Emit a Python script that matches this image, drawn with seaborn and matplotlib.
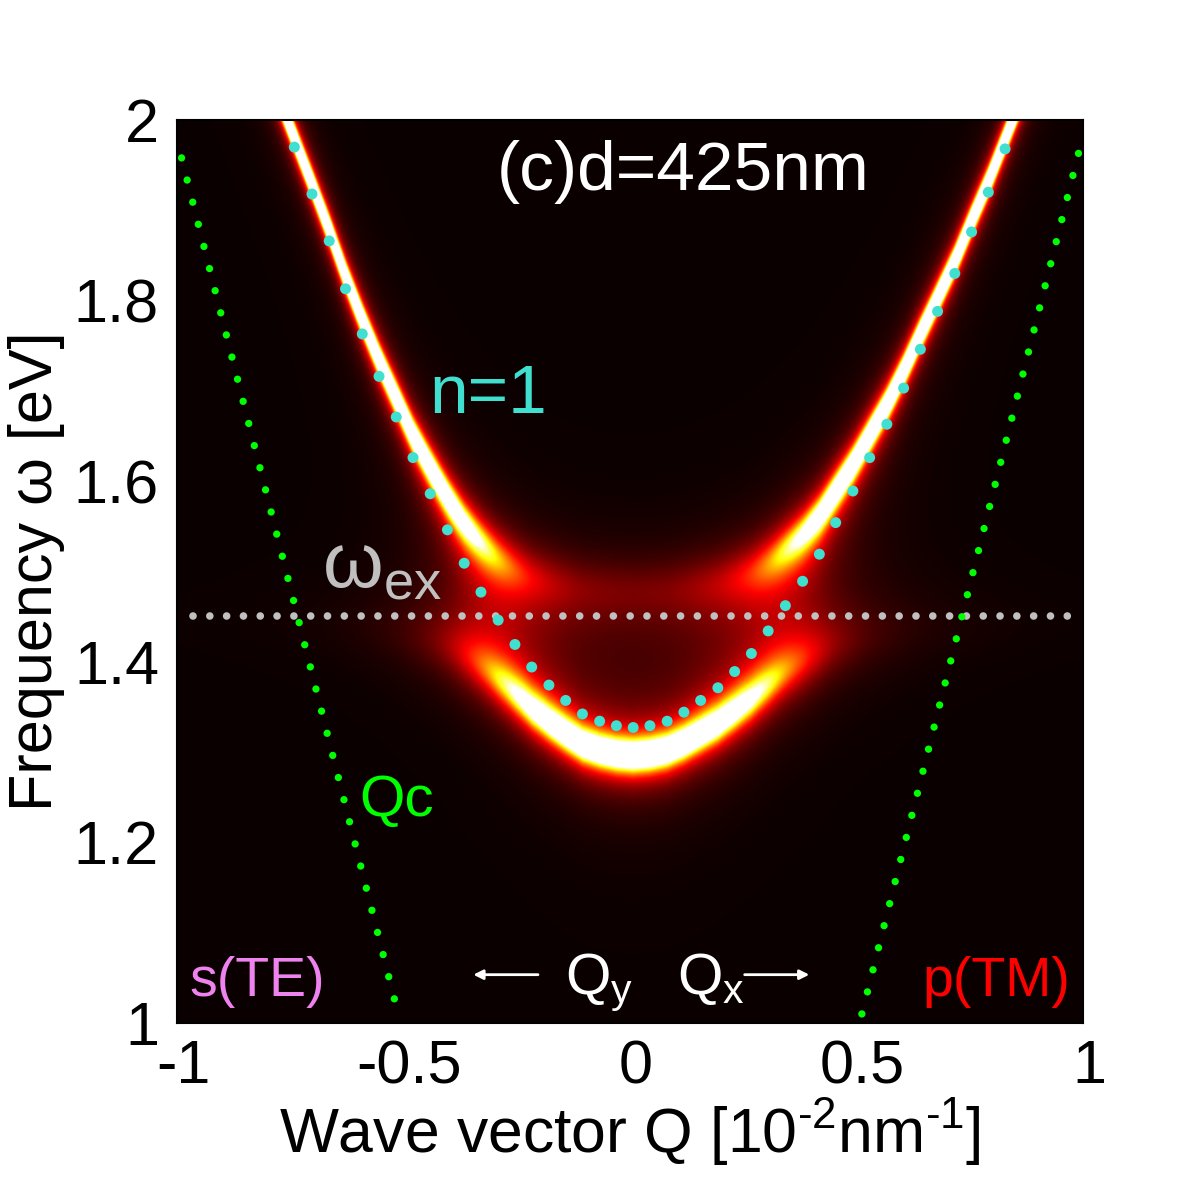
import numpy as np
import pandas as pd
import seaborn as sns
import matplotlib
matplotlib.use("Agg")
import matplotlib.pyplot as plt
from matplotlib.transforms import ScaledTranslation

# n=1 mode (cyan dots), Q in 1e-2 nm^-1, omega in eV
mode_Q = [-0.741, -0.702, -0.664, -0.628, -0.591, -0.554, -0.516, -0.479, -0.441,
          -0.403, -0.366, -0.329, -0.291, -0.254, -0.217, -0.179, -0.142, -0.105,
          -0.067, -0.030, 0.007, 0.044, 0.082, 0.119, 0.156, 0.194, 0.231, 0.268,
          0.305, 0.343, 0.381, 0.418, 0.454, 0.492, 0.529, 0.567, 0.604, 0.641,
          0.679, 0.717, 0.754, 0.791, 0.828]
mode_w = [1.970, 1.918, 1.866, 1.813, 1.763, 1.716, 1.671, 1.626, 1.586,
          1.546, 1.509, 1.477, 1.446, 1.419, 1.394, 1.374, 1.357, 1.342,
          1.334, 1.329, 1.327, 1.329, 1.334, 1.344, 1.357, 1.371, 1.389, 1.409,
          1.434, 1.462, 1.489, 1.519, 1.554, 1.589, 1.626, 1.663, 1.703, 1.746,
          1.788, 1.830, 1.876, 1.920, 1.968]

# light lines Qc (green dots), end points
qc_left_Q = [-0.990, -0.519]
qc_left_w = [1.958, 1.024]
qc_right_Q = [0.990, 0.510]
qc_right_w = [1.963, 1.006]

# exciton energy line
w_ex = 1.45
ex_Q = [-0.964, 0.977]

# coupling and broadenings [eV] for the map
g_cp = 0.072
gam_c = 0.005
gam_x = 0.045

# map of the photon spectral function
mq = np.array(mode_Q)
mw = np.array(mode_w)
Qg = np.linspace(-1, 1, 800)
wg = np.linspace(1, 2, 800)
Ec = np.interp(Qg, mq, mw)
sl_l = (mw[1] - mw[0]) / (mq[1] - mq[0])
sl_r = (mw[-1] - mw[-2]) / (mq[-1] - mq[-2])
Ec = np.where(Qg < mq[0], mw[0] + sl_l * (Qg - mq[0]), Ec)
Ec = np.where(Qg > mq[-1], mw[-1] + sl_r * (Qg - mq[-1]), Ec)

W = wg[:, None]
G = 1.0 / (W - Ec[None, :] + 1j * gam_c - g_cp**2 / (W - w_ex + 1j * gam_x))
spec = -G.imag

sns.set_theme(style="white")
plt.rcParams['font.family'] = ['Liberation Sans', 'DejaVu Sans']
plt.rcParams['mathtext.fontset'] = 'custom'
plt.rcParams['mathtext.rm'] = 'Liberation Sans'
plt.rcParams['mathtext.it'] = 'Liberation Sans'
plt.rcParams['mathtext.default'] = 'rm'
plt.rcParams['text.color'] = 'black'
plt.rcParams['axes.labelcolor'] = 'black'
plt.rcParams['xtick.color'] = 'black'
plt.rcParams['ytick.color'] = 'black'

fig = plt.figure(figsize=(12, 12), dpi=100)
ax = fig.add_axes([177 / 1200, 1 - 1022.7 / 1200, 906 / 1200, 902.7 / 1200])

ax.imshow(spec, extent=[-1, 1, 1, 2], origin='lower', aspect='auto',
          cmap='hot', vmin=0, vmax=30, interpolation='bilinear')

# dotted lines
ax.plot(ex_Q, [w_ex, w_ex], color='#c0c0c0', lw=5.5,
        linestyle=(0, (0.001, 2.20)), dash_capstyle='round')
ax.plot(qc_left_Q, qc_left_w, color='#00ff00', lw=5.3,
        linestyle=(0, (0.001, 3.10)), dash_capstyle='round')
ax.plot(qc_right_Q, qc_right_w, color='#00ff00', lw=5.3,
        linestyle=(0, (0.001, 3.09)), dash_capstyle='round')

df_mode = pd.DataFrame({'Q': mode_Q, 'w': mode_w})
sns.scatterplot(data=df_mode, x='Q', y='w', ax=ax, color='#40e0d0', s=62,
                edgecolor='none', zorder=5)

# labels inside
ax.text(-0.294, 1.922, '(c)d=425nm', color='white', fontsize=50)
ax.text(-0.4425, 1.675, 'n=1', color='#40e0d0', fontsize=50)
ax.text(-0.681, 1.482, r'$ω_{\mathrm{ex}}$', color='#c0c0c0', fontsize=56)
ax.text(-0.597, 1.2295, 'Qc', color='#00ff00', fontsize=42)
ax.text(-0.973, 1.030, 's(TE)', color='#ee82ee', fontsize=40)
ax.text(0.646, 1.030, 'p(TM)', color='#ff0000', fontsize=40)
ax.text(-0.144, 1.032, r'Q$_{\mathrm{y}}$', color='white', fontsize=42)
ax.text(0.104, 1.032, r'Q$_{\mathrm{x}}$', color='white', fontsize=42)
ax.annotate('', xy=(-0.352, 1.0532), xytext=(-0.197, 1.0532),
            arrowprops=dict(arrowstyle='-|>', color='white', lw=2, mutation_scale=14))
ax.annotate('', xy=(0.402, 1.0532), xytext=(0.247, 1.0532),
            arrowprops=dict(arrowstyle='-|>', color='white', lw=2, mutation_scale=14))

ax.set_xlim(-1, 1)
ax.set_ylim(1, 2)
ax.set_xticks([-1, -0.5, 0, 0.5, 1])
ax.set_xticklabels(['-1', '-0.5', '0', '0.5', '1'])
ax.set_yticks([1, 1.2, 1.4, 1.6, 1.8, 2])
ax.set_yticklabels(['1', '1.2', '1.4', '1.6', '1.8', '2'])
ax.tick_params(axis='both', labelsize=44, colors='black', direction='in', length=0)
ax.tick_params(axis='x', pad=12)
ax.tick_params(axis='y', pad=13)
for lbl in ax.get_xticklabels():
    lbl.set_transform(lbl.get_transform() + ScaledTranslation(0.06, 0, fig.dpi_scale_trans))
for sp in ax.spines.values():
    sp.set_color('black')
    sp.set_linewidth(1.5)

ax.set_xlabel('Wave vector Q [10$^{\\mathrm{\u2010}2}$nm$^{\\mathrm{\u2010}1}$]', fontsize=45)
ax.set_ylabel('Frequency ω [eV]', fontsize=44)
ax.xaxis.set_label_coords(0.5, -0.082)
ax.yaxis.set_label_coords(-0.124, 0.5)

fig.savefig('out.png', dpi=100, facecolor='white')
